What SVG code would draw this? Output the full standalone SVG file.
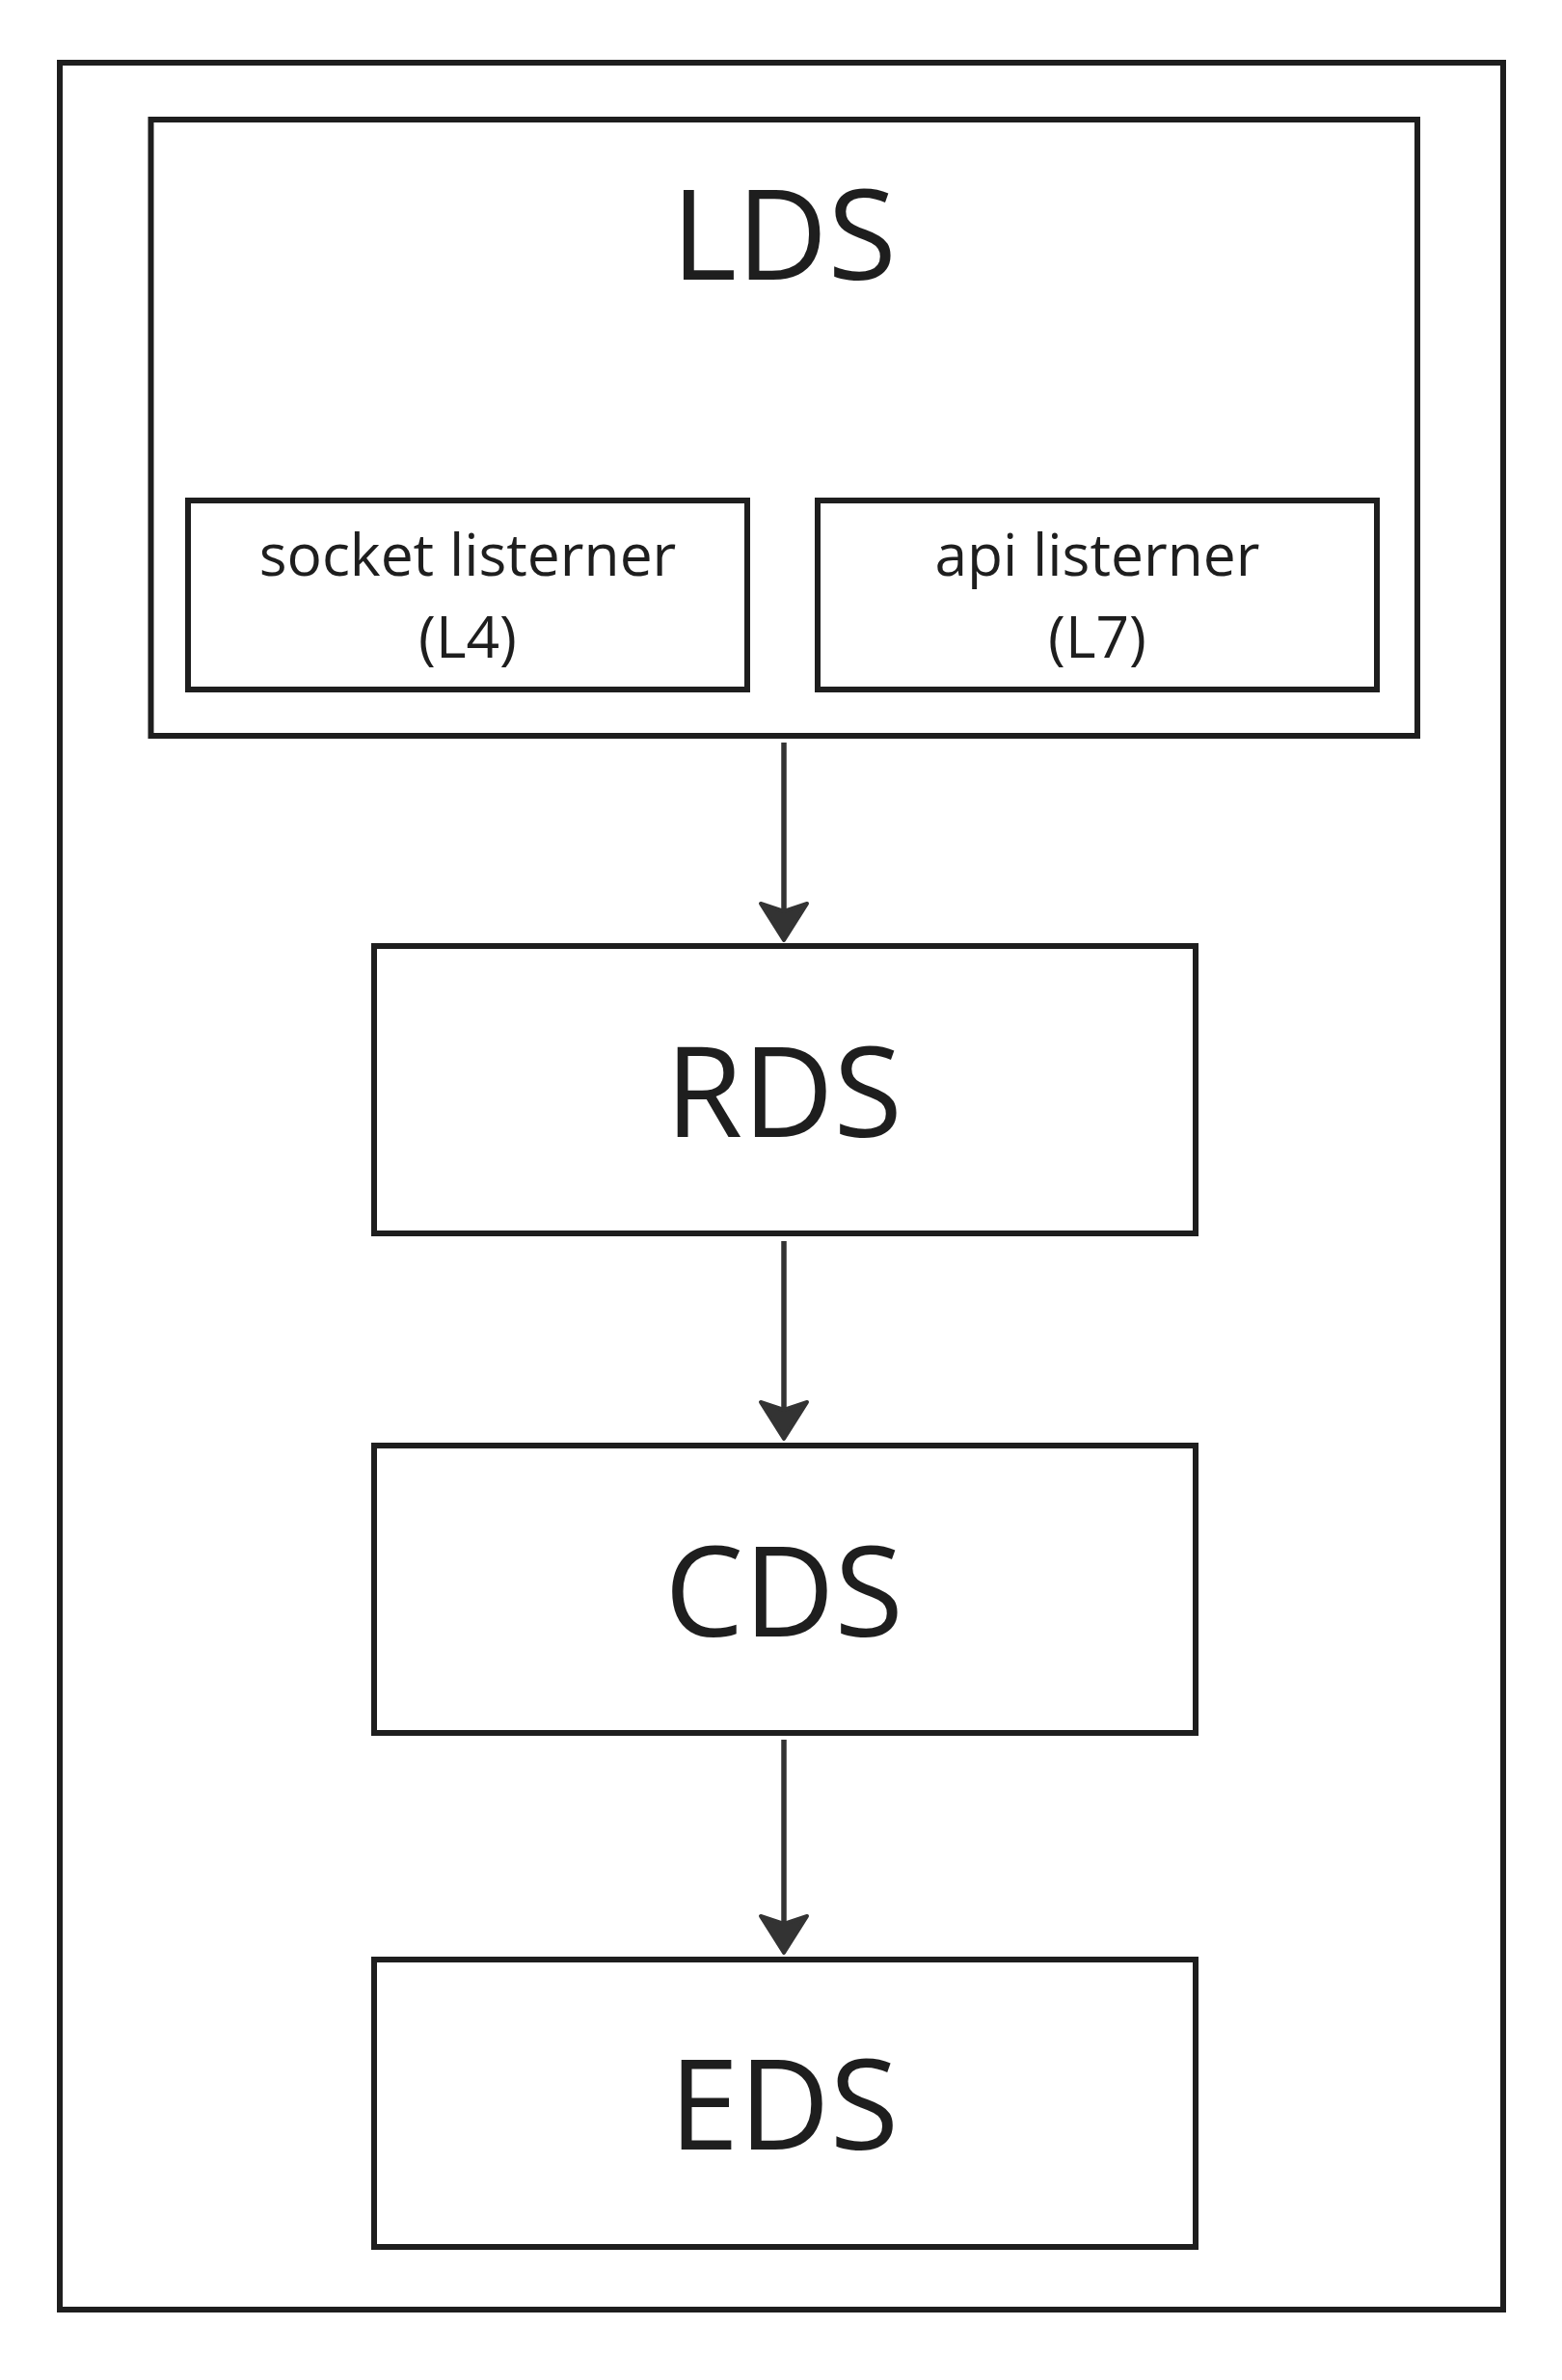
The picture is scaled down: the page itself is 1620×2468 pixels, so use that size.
<svg xmlns="http://www.w3.org/2000/svg" width="1620" height="2468" viewBox="0 0 1620 2468">
<style>
.box{fill:none;stroke:#1e1e1e;stroke-width:6}
.big{font-family:"Open Sans","Noto Sans",sans-serif;font-size:130px;fill:#1e1e1e;text-anchor:middle}
.small{font-family:"Open Sans","Noto Sans",sans-serif;font-size:60.5px;fill:#1e1e1e;text-anchor:middle}
.edge{stroke:#333;stroke-width:5.5;fill:none}
.head{fill:#333;stroke:#333;stroke-width:4;stroke-linejoin:round}
</style>
<rect width="1620" height="2468" fill="#fff"/>
<g id="outer"><rect class="box" x="62" y="65" width="1497" height="2330"/></g>
<g id="lds">
<rect class="box" x="156.5" y="124" width="1313.5" height="639"/>
<text class="big" x="813" y="290">LDS</text>
</g>
<g id="socket">
<rect class="box" x="195" y="519" width="580" height="196"/>
<text class="small" x="485" y="597">socket listerner</text>
<text class="small" x="485" y="682">(L4)</text>
</g>
<g id="api">
<rect class="box" x="848" y="519" width="580" height="196"/>
<text class="small" x="1138" y="597">api listerner</text>
<text class="small" x="1138" y="682">(L7)</text>
</g>
<g id="rds">
<rect class="box" x="388" y="981" width="852" height="298"/>
<text class="big" x="813" y="1179">RDS</text>
</g>
<g id="cds">
<rect class="box" x="388" y="1499" width="852" height="298"/>
<text class="big" x="813" y="1697">CDS</text>
</g>
<g id="eds">
<rect class="box" x="388" y="2032" width="852" height="298"/>
<text class="big" x="813" y="2229">EDS</text>
</g>
<g id="connectors">
<line class="edge" x1="813" y1="770" x2="813" y2="945"/>
<path class="head" d="M789,937 L813,945 L837,937 L813,975 Z"/>
<line class="edge" x1="813" y1="1287" x2="813" y2="1460"/>
<path class="head" d="M789,1454 L813,1462 L837,1454 L813,1492 Z"/>
<line class="edge" x1="813" y1="1804" x2="813" y2="1993"/>
<path class="head" d="M789,1987 L813,1995 L837,1987 L813,2025 Z"/>
</g>
</svg>
